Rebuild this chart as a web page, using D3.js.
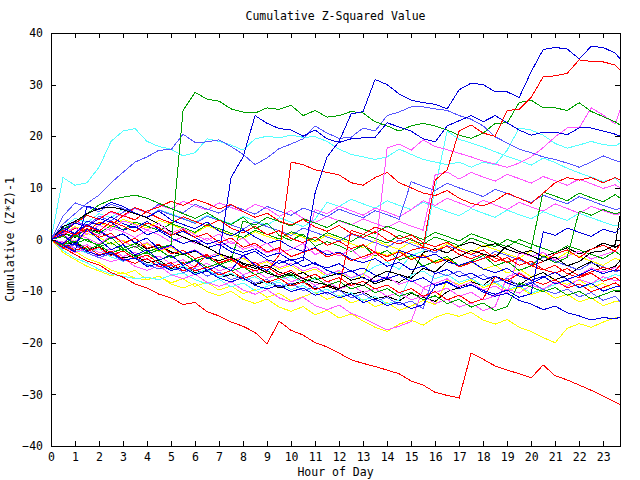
<!DOCTYPE html>
<html><head><meta charset="utf-8">
<script src="https://cdn.jsdelivr.net/npm/d3@7"></script>
<style>
html,body{margin:0;padding:0;background:#fff;}
text{font-family:"DejaVu Sans Mono",monospace;font-size:11.5px;fill:#000;}
</style></head>
<body><svg id="c" width="640" height="480"></svg>
<script>
const title = "Cumulative Z-Squared Value";
const xLabel = "Hour of Day";
const yLabel = "Cumulative (Z*Z)-1";
const xTicks = [0,1,2,3,4,5,6,7,8,9,10,11,12,13,14,15,16,17,18,19,20,21,22,23];
const yTicks = [-40,-30,-20,-10,0,10,20,30,40];
const hours = [0,0.5,1,1.5,2,2.5,3,3.5,4,4.5,5,5.5,6,6.5,7,7.5,8,8.5,9,9.5,10,10.5,11,11.5,
  12,12.5,13,13.5,14,14.5,15,15.5,16,16.5,17,17.5,18,18.5,19,19.5,20,20.5,21,21.5,22,22.5,23,23.5,23.7];

const B1 = [0,1,-1,2,0,-2,-1,-3,-2,-4,-3,-5, -4,-6,-5,-6,-3,-5,-6,-4,-5,-4,9,16,
  19,24.3,24.8,31,30,28.2,27,26.5,26.2,25.3,29,30.3, 30,28.6,28.6,27.5,32.5,36.8,37.2,36.9,35,37.4,37.2,36.1,35];
const R2 = [0,1.8,0.9,2.7,1.6,3.5,2.6,1.5,3.2,2.3,0.8,1.9, 0.4,1.2,-0.6,0.3,-1.5,-0.7,-2.4,-1.6,-3.3,-2.5,-1.7,-3.4,
  -2.6,-4.1,-3.3,-2.5,-4.2,-3.4,-2.1,-1.5,11.5,13.5,21,22.2, 20.6,20,25,25.2,27.5,31.5,31.7,32.2,34.8,34.5,34.4,33.8,32.8];
const G1 = [0,-1.2,0.8,-0.3,-1.1,0.4,-1.7,-0.8,-2.4,-1.6,-1,25, 28.5,27.2,26.8,25.3,24.7,24.5,25.5,25.2,26,24,25,23.7,
  24,24.8,24.5,22.8,22,21,22,22.5,22,21.2,20.2,19.6, 20.6,22.5,22.6,26.5,27,25.5,25.5,25,26.5,24.8,23.8,22.8,22.2];
const C1 = [0,12,10.5,11,14,19,21,21.5,19,18,17.5,16.2, 16.8,19.5,19,18.3,17.3,19.5,20,19.7,20.2,19.8,19.9,19,
  17.5,16.5,16,15.5,16,17.5,16.5,15.5,15,14.5,15,14, 15,14.5,17.3,21.6,21.2,20.2,18.6,17.7,18.3,19,18.4,18.1,18.7];
const MB1 = [0,3,5,7,8.6,11,13,15,16,17.3,17.4,20.4, 18.8,18.9,19.3,18,16.5,14.5,15.8,17.6,18.5,19.5,22,20.6,
  19.6,19.8,21.6,21,24,24.7,25.7,25.7,25.3,25,24,23.3, 22,19.9,18.7,17.5,16.8,16,15.5,14.8,14,15,16.2,15.3,15];
const B2 = [0,-0.8,1.3,2.9,1.8,0.2,1.1,-0.7,0.3,-1.9,-1.1,-2.8, -2.1,-3.7,-3,12,16,24,22.5,21.5,21.2,20,21.2,19.5,
  18.8,19.5,19.7,19.8,22.6,21.8,21,19.5,18.9,22,23,24, 22.8,24,22.6,21.2,20.2,20.8,20.8,20.3,21.6,21.6,21,20.4,20];
const Rlow = [0,-1.6,-2.9,-4.2,-4.9,-6.4,-7.3,-8.6,-9.4,-10.6,-11.3,-12.6, -12.2,-14,-14.8,-16,-16.8,-18,-20.2,-15.8,-17.6,-18.5,-20,-20.8,
  -22,-23.3,-24,-24.6,-25.3,-26,-27.4,-28.2,-29.6,-30.2,-30.7,-22, -23.2,-24.5,-25.3,-26,-26.8,-24.3,-26.4,-27.2,-28.2,-29.2,-30.3,-31.5,-32];
const M1 = [0,1.1,2.3,0.9,2.8,1.7,3.6,2.9,1.8,3.1,1.2,2.2, 0.9,-0.2,1.1,-0.9,0.3,-1.8,-0.7,-2.6,-1.9,-0.8,-2.9,-2.1,
  -3.2,-1.9,-3.8,-2.7,17.7,18.5,17.3,19.3,18,17.4,16.7,16, 15.2,14.6,14,14.8,16,17.8,19.9,21.6,21.6,25.5,24.1,22.4,25];
const R3 = [0,-1.1,0.9,2.1,0.4,1.2,-0.8,0.3,-1.7,-0.9,-2.8,-2.1, -3.7,-2.9,-4.6,-3.8,-5.5,-4.4,-6.2,-3,15,14.5,13.5,13,
  12.5,11,10.5,12,13,11,10,9,8.5,9.5,8,7, 6.5,7.5,9,8,7,9,11,12,11.5,12,11,12,11.5];
const G2 = [0,2,3.1,5,6.7,7.7,8.2,8.6,8,7,6,5, 4.1,5.2,3.8,2.9,4.3,2.1,3.2,0.8,-0.2,1.1,-1.3,-0.4,
  -1.2,-2.3,-1.1,-3.2,-2.1,-4,-3.1,-5.2,-4.2,-3.3,-5.1,-4.2, -3.1,-5.1,-4.2,-6,-5.1,-3.2,-4.5,-3.5,5.5,4.7,5.8,5,5.2];
const K1 = [0,2.5,3.5,5,6,6.3,5.8,5,4.2,3,1.5,0.5, -0.5,-1.5,-2.8,-3.5,-4.6,-5.2,-6.5,-7.2,-6.4,-7.6,-8.3,-8.8,
  -9.5,-8.4,-8.9,-7.2,-6.1,-6.8,-7.5,-5.6,-6.3,-4.2,-3.3,-2.1, -2.8,-3.4,-1.2,-2.3,-3.1,-4.2,-3.4,-5.1,-4.3,-2.5,-2.2,-1,4.5];
const K2 = [0,-1.2,-0.5,-2.1,-1.4,-2.9,-3.6,-3.1,-4.5,-4,-5.6,-5.2, -6.4,-6,-7.3,-6.8,-7.6,-8.7,-8.1,-9.4,-8.8,-7.9,-9.6,-9.1,
  -9.8,-10.6,-10.1,-11.5,-11,-11.9,-10.4,-11.2,-12,-10.1,-9.3,-8.2, -8.9,-7.1,-8,-8.8,-7.3,-6.4,-7.8,-7,-5.4,-4.3,-5.9,-5.2,-4.1];
const K3 = [0,1.2,0.4,2.1,1.5,0.3,1.1,-0.6,-1.8,-1.1,-2.4,-3, -2.2,-3.5,-4.1,-3.3,-4.8,-5.6,-5,-6.3,-7.1,-6.4,-7.8,-7.2,
  -6.5,-7.9,-7.3,-8.6,-7.7,-8.3,-6.9,-2.5,-1.8,-2.6,-1.2,-0.5, -1.4,-0.8,-1.9,-2.7,-2.1,-3.4,-2.5,-1.6,-2.8,-1.9,-0.7,-1.5,-1];
const B3 = [0,-1.5,-0.8,-2.3,-3.1,-2.5,-4,-3.6,-5.2,-4.7,-6,-5.4, -6.8,-6.1,-7.5,-8.2,-7.4,-8.9,-9.6,-8.8,-10.1,-9.4,-10.8,-10.2,
  -11.3,-10.6,-12.2,-11.5,-12.8,-12.1,-13.4,-12.6,-9,-8.3,-9.5,-8.7, -10.2,-11,-10.4,-11.8,-12.5,-13.6,-12.9,-14.2,-14.8,-15.6,-15.1,-15.4,-15];
const B4 = [0,2.3,1.1,3.6,2.8,4.4,3.1,2.2,3.5,1.9,0.8,1.6, 0.4,-0.9,-0.2,-1.7,-2.5,-1.8,-3.3,-2.6,-4.1,-3.4,-4.8,-5.5,
  -4.7,-6.2,-5.5,-6.9,-7.6,-6.8,-8.2,-7.4,-8.9,-8.1,-9.5,-8.8, -9.9,-10.6,-9.8,-11.2,-10.5,1.5,0.8,2.2,1.4,0.6,2,1.3,2.2];
const B5 = [0,-1.1,-2.4,6.5,5.8,7.2,6.4,5.1,4.3,5.5,3.8,2.9, 2.1,3.4,1.6,0.7,1.9,0.5,-0.8,-0.1,-1.5,-2.3,-1.6,-3,
  -2.4,-3.8,-4.5,-3.7,-5.2,-4.4,-5.9,-5.1,-6.6,-5.8,-7.2,-6.5, -7.8,-7.1,-8.4,-9.2,-8.5,-7.3,-6.4,-7.7,-6.9,-5.8,-6.6,-5.9,-6];
const B6 = [0,1.5,3.2,2.4,4.1,3.3,1.8,2.6,0.9,1.7,0.3,-0.8, -0.1,-1.6,-0.9,-2.4,-3.1,-2.3,-3.9,-4.6,-3.8,-5.3,-4.5,-6,
  -6.8,-6,-7.5,-8.2,-7.4,-2.1,-2.9,-3.6,-2.8,-4.3,-5,-4.2, -5.7,-6.4,-5.6,-7.1,-7.9,-7.1,-8.6,-7.8,-9.3,-8.5,-10,-9.2,-9];
const R4 = [0,1.4,3.1,4.7,3.9,5.5,4.6,6.2,5.3,4.1,3.2,4.4, 3.5,2.6,3.8,2.2,1.3,2.5,0.9,1.7,0.2,-0.6,0.5,-1.1,
  -0.3,-1.8,-1,-2.5,-3.3,-2.4,-3.9,-3.1,-4.6,-3.8,-5.3,-4.5, -3.7,-2.9,-4.4,-3.6,-5.1,-4.3,-2.8,-2,-3.5,-1.9,-1.1,-2.3,-1];
const R5 = [0,0.8,2.2,1.5,3.4,2.7,4.6,3.8,5.5,6.3,7.4,6.6, 7.8,7,5.9,6.8,5.4,4.3,5.1,3.6,2.8,3.9,2.4,1.6,
  2.7,1.2,0.4,1.5,-0.1,-0.9,0.2,-1.4,-2.2,-1.3,-2.9,-3.7, -2.8,-4.3,-3.5,-5,-4.2,-5.8,-6.5,-5.6,-7.1,-6.3,-5.4,-6.1,-5];
const R6 = [0,-0.9,-2.1,-1.4,-3,-2.2,-3.8,-4.6,-3.7,-5.3,-4.5,-6.1, -5.2,-3.1,-4.5,-3.7,-5.2,-6.1,-5.3,-6.8,-6,-7.6,-6.7,-8.2,
  -7.4,-8.9,-8.1,-9.6,-8.8,-10.3,-9.5,-11,-10.1,-11.7,-10.8,-12.3, -11.5,-7.2,-8,-6.6,-7.9,-8.7,-7.8,-9.4,-8.6,-10.1,-9.3,-8.4,-9];
const R7 = [0,-1.6,-0.7,-2.3,-1.5,-3.1,-2.2,-3.8,-3,-4.6,-5.4,-4.5, -6.1,-5.3,-6.9,-6,-7.6,-6.8,-8.3,-7.5,-9,-8.2,-9.7,-8.9,
  -9.5,1.8,1,2.4,1.6,0.1,0.9,-0.6,-1.4,-0.5,-2.1,-2.9, -2,-3.6,-4.4,-3.5,-5.1,-5.9,-5,-6.6,-7.4,-6.5,-8.1,-7.3,-8];
const M2 = [0,-1.4,-2.5,-1.8,-3.5,-4.3,-3.6,-5.2,-6,-5.1,-6.8,-7.6, -6.7,-8.3,-9.1,-8.2,-9.8,-10.6,-9.7,-11.3,-12.1,-11.2,-12.8,-13.6,
  -12.7,-14.3,-15.2,-16.4,-17.5,-16.8,-15.9,-9.5,-10.3,-9.4,-11,-10.2, -11.7,-10.9,-9.6,-10.4,-8.8,-9.6,-8.3,-9.1,-7.7,-8.5,-7.2,-8,-8];
const M3 = [0,1.8,3.3,2.6,4.1,5.3,4.4,6,5.2,6.7,5.9,7.4, 6.5,5.7,7.1,6.2,5.4,6.8,6,4.5,5.6,4.1,3.3,4.5,
  3.6,2.8,4,3.1,2.3,3.5,2.6,1.8,12.5,13.1,11.7,13, 12.1,11.3,12.6,11.8,10.9,12.2,11.4,10.5,11.7,10.8,9.9,10.6,10];
const M4 = [0,-0.6,1.1,0.3,-0.9,0.7,-0.4,-1.5,-0.6,-2.1,-1.3,-2.8, -2,-3.4,-2.6,-4.1,-3.3,-4.8,-4,-5.5,-4.6,-6.1,-5.3,-6.8,
  -6,-7.4,-6.6,-8.1,-7.2,-8.7,-7.9,-9.3,-8.5,-7.6,-9.1,-8.3, -9.8,-9,-10.4,-2.5,-3.3,-2.5,-4,-3.2,-2.3,-3.8,-3,-2.2,-3];
const M5 = [0,-0.5,-1.7,-1,-2.6,-1.8,-3.3,-2.5,-4,-3.2,-4.7,-3.9, -5.4,-4.6,-6.1,-5.3,-6.8,-6,-7.5,-6.7,-8.2,-7.4,-8.9,-8.1,
  -9.6,-8.8,-10.3,-9.5,-11,-10.2,-11.7,-10.9,-12.4,-11.6,-13.1,-12.3, -13.8,-13,-7.2,-6.4,-7.9,-7.1,-8.6,-7.8,-6.9,-5.5,-6.3,-5.4,-6];
const M6 = [0,0.9,-0.4,1.6,0.8,2.3,1.5,0.4,1.8,0.9,-0.5,0.6, -0.8,0.3,-1.2,-0.4,-1.9,-1.1,-2.6,-1.8,-3.3,-2.4,5.8,5,
  6.4,5.6,4.7,6.1,5.3,4.4,5.8,7.5,6.6,8,7.1,6.2, 7.6,6.7,5.8,7.2,6.3,5.5,6.9,6,5.1,6.4,5.6,4.8,5];
const C2 = [0,-0.7,-1.9,-2.6,-1.8,-3.4,-4.2,-3.5,-5,-4.3,-5.9,-5.1, -6.6,-5.8,-7.3,-6.5,-8,-7.2,-8.7,-7.9,-7.1,-8.5,-7.7,-6.9,
  -6.1,-7.5,-6.7,-5.2,-4.4,-5.8,-3.1,-2.3,10,21,19.4,18.7, 17.9,17,16.1,15.3,14.4,15.8,14.9,13.8,12.9,12.1,11.2,11.9,11];
const C3 = [0,-2.1,-3.6,-4.5,-5.8,-6.7,-7.1,-7.6,-7.3,-7.8,-6.9,-6.5, -7.8,-8.6,-7.7,-9.2,-8.4,-9.9,-9.1,-8.2,-9.7,-8.9,-10.4,-9.6,
  -11.1,-10.3,-11.8,-11,-12.5,-11.7,-6.9,-6.1,-7.6,-6.8,-8.3,-7.5, -9,-8.2,-9.7,-8.9,-10.4,-9.6,-8.7,-7.9,-9.4,-8.6,-7.7,-6.8,-7];
const C4 = [0,2.4,4.1,3.3,5,4.2,5.9,5.1,4.2,5.8,5,4.1, 3.3,4.7,3.9,3,4.5,3.6,2.8,4.2,3.4,2.5,3.9,7.2,
  6.4,7.8,6.9,6.1,7.5,6.6,5.8,7.2,6.3,5.4,4.6,6, 5.1,4.3,5.7,4.8,4,5.4,4.5,3.7,5.1,4.2,3.4,2.6,3];
const Y1 = [0,-1.6,-2.3,-3.7,-4.5,-5.9,-6.7,-6,-7.8,-7.1,-8.6,-9.4, -8.5,-10.1,-10.9,-10,-11.6,-12.4,-11.5,-13.1,-13.9,-13,-14.6,-13.7,
  -15.2,-14.4,-15.8,-17,-17.8,-16.4,-15.6,-16.6,-15.1,-14.3,-14.9,-14.1, -15.6,-16.4,-15.5,-17,-17.8,-19,-20,-17.2,-16.3,-17,-16,-15.2,-15];
const Y2 = [0,0.7,-0.5,1.2,0.4,-0.9,-0.1,-1.6,-0.8,-2.3,-1.5,-3, -2.2,-3.7,-2.9,-4.4,-3.6,-5.1,-4.3,-5.8,-5,-6.5,-5.7,-7.2,
  -6.4,-7.9,-7.1,-2.3,-3.1,-2.2,-3.7,-2.9,-4.4,-3.6,-5.1,-4.3, -5.8,-5,-6.5,-5.7,-7.2,-6.4,-7.9,-8.7,-7.8,-9.3,-8.5,-10,-10];
const Y3 = [0,-2.5,-3.9,-5.2,-6.1,-7,-6.4,-7.5,-7.8,-7.1,-8.4,-7.6, -9.1,-8.3,-9.8,-9,-10.5,-9.7,-11.2,-10.4,-11.9,-11.1,-10.2,-11.6,
  -10.8,-12.3,-11.5,-13,-12.2,-13.7,-12.9,-11.8,-12.6,-7.9,-8.7,-7.8, -9.3,-8.5,-10,-9.2,-10.7,-9.9,-11.4,-10.6,-12.1,-11.3,-12.8,-12,-12];
const Y4 = [0,1.1,2.5,1.7,3.2,2.4,3.9,3.1,2.2,3.7,2.9,2, 1.2,2.6,1.8,0.9,0.1,1.5,0.6,-0.2,1.2,0.4,-0.5,0.9,
  0.1,-0.8,-1.6,-0.2,-1.1,-1.9,-0.5,-1.3,-2.2,-0.8,-1.6,-2.5, -1.1,-1.9,-2.8,-3.6,-2.2,-3.1,-3.9,-2.5,-3.3,-4.2,-5,-3.6,-4];
const G3 = [0,1.3,0.5,2,1.2,2.7,1.9,3.4,2.6,1.7,3.1,2.3, 1.4,2.9,2.1,1.2,0.4,1.8,1,0.1,1.5,0.7,-0.2,1.3,
  0.5,-0.4,1,0.2,-0.7,0.8,-0.1,-0.9,0.5,-0.3,-1.2,0.3, -0.6,-1.4,0,-0.8,-1.7,9.2,8.4,7.5,9,8.1,7.3,8.7,8];
const G4 = [0,-1,-0.3,-1.9,-1.1,-2.6,-1.8,-3.3,-2.5,-4,-3.2,-4.7, -3.9,-5.4,-4.6,-6.1,-5.3,-6.8,-6,-7.5,-6.7,-8.2,-7.4,-8.9,
  -8.1,-9.6,-8.8,-10.3,-9.5,-11,-10.2,-11.7,-10.9,-12.4,-11.6,-13.1, -12.3,-13.8,-13,-8.4,-9.2,-10.1,-9.3,-10.8,-10,-11.5,-10.7,-9.8,-10];
const G5 = [0,0.6,-0.8,0.1,-1.4,-0.6,-2.1,-1.3,-2.8,-2,-3.5,-2.7, -4.2,-3.4,-4.9,-4.1,3.6,2.8,4.3,3.5,2.6,4,3.2,2.3,
  3.7,2.9,2,1.2,2.6,1.7,0.9,0,1.4,0.6,-0.3,1.1, 0.3,-0.6,-1.4,0,-0.9,-1.7,-2.6,-1.2,-2,-2.9,-3.7,-2.3,-3];
const MB2 = [0,-1.8,-1,-2.6,-3.5,-2.7,-4.2,-3.4,-4.9,-5.7,-4.9,-6.4, -5.6,-7.1,-6.3,-7.8,-7,-8.5,-7.7,-9.2,-8.4,-9.9,-9.1,-10.6,
  -9.8,-11.3,-10.5,-12,-11.2,-12.7,-11.9,-13.4,-6.2,-7,-6.1,-7.6, -6.8,-8.3,-7.5,-9,-8.2,-9.7,-10.5,-9.6,-11.1,-10.3,-11.8,-11,-12];
const MB3 = [0,4.5,7.1,6.3,5.4,6.8,6,5.1,4.3,5.7,4.8,4, 3.1,4.5,3.7,2.8,2,3.4,2.5,1.7,0.8,2.2,1.4,0.5,
  -0.3,1.1,0.2,-0.6,-1.5,-0.1,-0.9,-1.8,-2.6,-1.2,-2,-2.9, -3.7,-2.3,-3.1,-4,-4.8,-3.4,-4.2,-5.1,-5.9,-4.5,-5.3,-6.2,-6];
const MB4 = [0,1.9,3.6,2.7,4.5,3.6,5.3,6.1,5.2,6.9,6,5.2, 6.8,5.9,5.1,6.6,5.8,4.9,6.4,5.5,4.7,6.1,5.3,4.4,
  5.9,5,4.2,5.6,4.8,3.9,11.2,10.3,9.5,10.9,10,9.2, 8.3,9.7,8.9,8,7.2,8.6,7.7,6.9,8.3,7.5,6.6,5.8,6];

const RED="#ff0000", GREEN="#00a000", BLUE="#0000dd", MAG="#ff55ff", CYAN="#55ffff", LBLUE="#5555ff", YEL="#ffff00", BLK="#000000";
const series = [
  [Y1,YEL],[Y2,YEL],[Y3,YEL],[Y4,YEL],
  [K2,BLK],[K3,BLK],
  [C3,CYAN],[C4,CYAN],[C2,CYAN],
  [M5,MAG],[M4,MAG],[M2,MAG],[M6,MAG],[M3,MAG],
  [MB2,LBLUE],[MB3,LBLUE],[MB4,LBLUE],
  [G4,GREEN],[G5,GREEN],[G3,GREEN],[G2,GREEN],
  [R6,RED],[R7,RED],[R5,RED],[R4,RED],[R3,RED],
  [B3,BLUE],[B4,BLUE],[B5,BLUE],[B6,BLUE],
  [K1,BLK],
  [C1,CYAN],[MB1,LBLUE],[M1,MAG],[G1,GREEN],[B2,BLUE],[Rlow,RED],[R2,RED],[B1,BLUE]
];

const svg = d3.select("#c");
const L=51, R=620, T=33, B=446;
const x = d3.scaleLinear().domain([0,23.7]).range([L,R]);
const y = d3.scaleLinear().domain([-40,40]).range([B,T]);

const line = d3.line().x((d,i)=>x(hours[i])).y(d=>y(d)).defined(d=>d!=null);
const g = svg.append("g");
series.forEach(([vals,col])=>{
  g.append("path").datum(vals).attr("d",line).attr("fill","none")
   .attr("stroke",col).attr("stroke-width",1).attr("shape-rendering","crispEdges");
});

// axes (inward ticks)
const ax = svg.append("g").attr("shape-rendering","crispEdges");
ax.append("g").attr("transform",`translate(0,${B})`)
  .call(d3.axisBottom(x).tickValues(xTicks).tickSize(-5).tickSizeOuter(0).tickPadding(7).tickFormat(d3.format("d")));
ax.append("g").attr("transform",`translate(0,${T})`)
  .call(d3.axisTop(x).tickValues(xTicks).tickSize(-5).tickSizeOuter(0).tickFormat(""));
ax.append("g").attr("transform",`translate(${L},0)`)
  .call(d3.axisLeft(y).tickValues(yTicks).tickSize(-5).tickSizeOuter(0).tickPadding(8).tickFormat(d3.format("d")));
ax.append("g").attr("transform",`translate(${R},0)`)
  .call(d3.axisRight(y).tickValues(yTicks).tickSize(-5).tickSizeOuter(0).tickFormat(""));
ax.selectAll(".domain").remove();
ax.selectAll(".tick line").attr("stroke","#000");
ax.selectAll("text").attr("font-family",null).attr("font-size",null);
svg.append("rect").attr("x",L+0.5).attr("y",T+0.5).attr("width",R-L).attr("height",B-T)
  .attr("fill","none").attr("stroke","#000").attr("shape-rendering","crispEdges");

svg.append("text").attr("x",(L+R)/2).attr("y",20).attr("text-anchor","middle").text(title);
svg.append("text").attr("x",(L+R)/2).attr("y",476).attr("text-anchor","middle").text(xLabel);
svg.append("text").attr("transform",`translate(14,${(T+B)/2}) rotate(-90)`).attr("text-anchor","middle").text(yLabel);
</script></body></html>
